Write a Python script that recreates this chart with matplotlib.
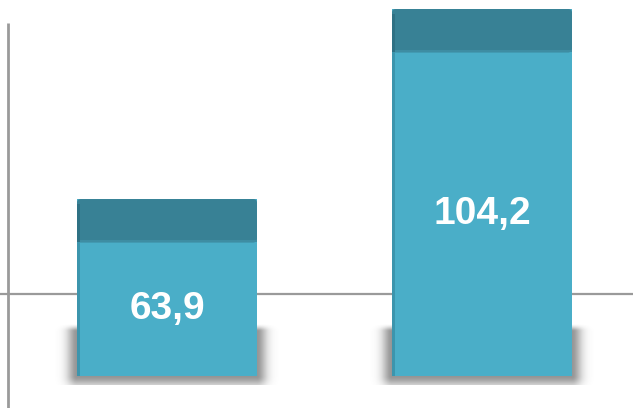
import numpy as np
import matplotlib
matplotlib.use("Agg")
import matplotlib.pyplot as plt
from matplotlib.patches import FancyBboxPatch, Rectangle

# ---- data ----
categories = ["A", "B"]
values = [63.9, 104.2]
labels = ["63,9", "104,2"]

# ---- layout / style ----
BASE = 26.37          # value at which bars start (axis floor)
REF_LINE = 43.76      # horizontal reference line
CAP = 9.2             # height of the darker top band (value units)
BAR_W = 180 / 315
BODY = "#4AAEC8"
TOP = "#388195"
EDGE = "#3C95AD"
PX_Y = 4.715          # pixels per value unit
PX_X = 315            # pixels per category unit

fig = plt.figure(figsize=(6.33, 4.08), dpi=100)
ax = fig.add_axes([0, 0, 1, 1])
ax.set_xlim(-167 / PX_X, (633 - 167) / PX_X)
ax.set_ylim(BASE - 32 / PX_Y, BASE + 376 / PX_Y)
ax.axis("off")

x = np.arange(len(categories))

# axis lines
ax.axhline(REF_LINE, color="#9a9a9a", lw=1.6, zorder=1)
ax.plot([-159 / PX_X] * 2, [ax.get_ylim()[0], BASE + (376 - 23) / PX_Y],
        color="#9a9a9a", lw=2.0, zorder=1, solid_capstyle="butt")

# shadows
pad = 22
sh_w = BAR_W + 2 * pad / PX_X
sh_top = BASE + 52 / PX_Y
sh_bot = BASE - 9 / PX_Y
nx, ny = 260, 130
half = (180 / 2 + pad)
px = np.linspace(-half, half, nx)
h_px = 61
py = np.linspace(0, h_px, ny)
X, Y = np.meshgrid(px, py)
dx = np.clip(np.abs(X) - 90, 0, None)
dy_top = np.clip(8 - Y, 0, None)
dy_bot = np.clip(Y - 52, 0, None)
d = np.sqrt(dx ** 2 + dy_top ** 2 + dy_bot ** 2)
alpha = np.exp(-(d / 10.0) ** 2) * 0.62
alpha *= np.clip(Y / 6.0, 0, 1)
img = np.zeros((ny, nx, 4))
img[..., :3] = 0.33
img[..., 3] = alpha
for xi in x:
    ax.imshow(img, extent=[xi - sh_w / 2, xi + sh_w / 2, sh_bot, sh_top],
              origin="upper", aspect="auto", zorder=2, interpolation="bilinear")

# bars
ax.bar(x, [v - BASE for v in values], bottom=BASE, width=BAR_W,
       color=BODY, zorder=3, linewidth=0)
for xi, v, lab in zip(x, values, labels):
    left = xi - BAR_W / 2
    cap = FancyBboxPatch((left, v - CAP), BAR_W, CAP,
                         boxstyle="round,pad=0,rounding_size=0.012",
                         mutation_aspect=PX_X / PX_Y,
                         facecolor=TOP, edgecolor="none", zorder=4)
    ax.add_patch(cap)
    ax.add_patch(Rectangle((left, v - CAP), BAR_W, 0.5, facecolor="#3E8DA3",
                           edgecolor="none", zorder=4))
    ax.add_patch(Rectangle((left, BASE), 3 / PX_X, v - CAP - BASE,
                           facecolor=EDGE, edgecolor="none", zorder=4))
    ax.add_patch(Rectangle((left, v - CAP), 3 / PX_X, CAP - 1.0,
                           facecolor="#2F7184", edgecolor="none", zorder=4))
    ax.text(xi, (BASE + v - CAP) / 2, lab, ha="center", va="center",
            color="white", fontsize=28, fontweight="bold",
            family="Liberation Sans", zorder=5)

fig.savefig("out.png", dpi=100, facecolor="white")
